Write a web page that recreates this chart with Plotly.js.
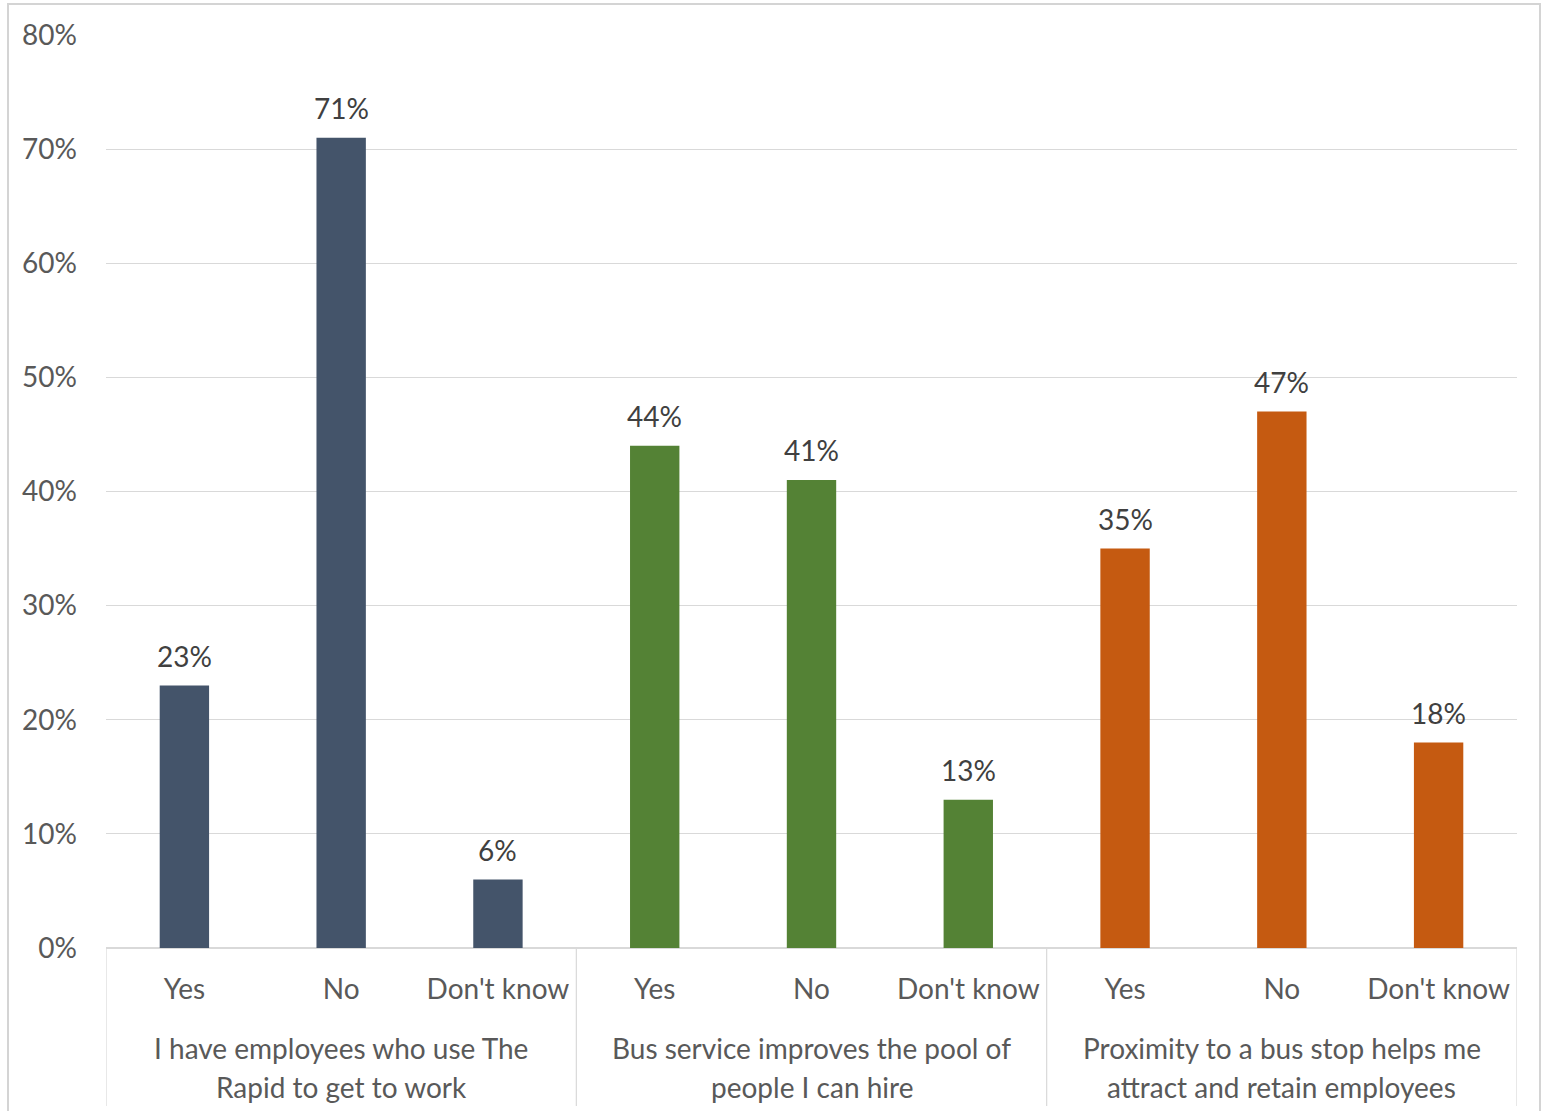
<!DOCTYPE html>
<html>
<head>
<meta charset="utf-8">
<script src="https://cdn.plot.ly/plotly-3.0.1.min.js"></script>
<style>html,body{margin:0;padding:0;background:#fff;}#chart{width:1544px;height:1111px;}</style>
</head>
<body>
<div id="chart"></div>
<script>
const answers = ["Yes", "No", "Don't know", "Yes", "No", "Don't know", "Yes", "No", "Don't know"];
const values = [23, 71, 6, 44, 41, 13, 35, 47, 18];
const groupLine1 = ["I have employees who use The", "Bus service improves the pool of", "Proximity to a bus stop helps me"];
const groupLine2 = ["Rapid to get to work", "people I can hire", "attract and retain employees"];
const groupColors = ["#44546A", "#548235", "#C55A11"];
const yTicks = [0, 10, 20, 30, 40, 50, 60, 70, 80];

const positions = answers.map((a, i) => i);
const barColors = answers.map((a, i) => groupColors[Math.floor(i / 3)]);
const FONT = "Lato, 'Open Sans', sans-serif";
const FS = 28;

const trace = {
  type: "bar",
  x: positions,
  y: values,
  width: 0.315,
  marker: {color: barColors, line: {width: 0}},
  hoverinfo: "skip"
};

const plotH = 913, plotW = 1411, plotBottomPx = 948, plotLeftPx = 106;
const pyPaper = px => (plotBottomPx - px) / plotH;
const pxPaper = px => (px - plotLeftPx) / plotW;

const shapes = [];
[-0.5, 2.5, 5.5, 8.5].forEach(x => {
  shapes.push({type: "line", xref: "x", yref: "paper", x0: x, x1: x, y0: 0, y1: pyPaper(1106),
    line: {color: "#d9d9d9", width: 1.2}});
});
shapes.push({type: "rect", xref: "paper", yref: "paper",
  x0: pxPaper(8), x1: pxPaper(1540), y0: pyPaper(1120), y1: pyPaper(4),
  line: {color: "#d4d4d4", width: 2}});

const annotations = [];
values.forEach((v, i) => {
  annotations.push({x: positions[i], y: v, xref: "x", yref: "y", text: v + "%",
    showarrow: false, xanchor: "center", yanchor: "bottom", yshift: 11,
    font: {family: FONT, size: FS, color: "#404040"}});
});
groupLine1.forEach((g, i) => {
  annotations.push({x: i * 3 + 1, xref: "x", y: pyPaper(1048), yref: "paper",
    text: g, showarrow: false, xanchor: "center", yanchor: "middle",
    font: {family: FONT, size: FS, color: "#595959"}});
  annotations.push({x: i * 3 + 1, xref: "x", y: pyPaper(1087), yref: "paper",
    text: groupLine2[i], showarrow: false, xanchor: "center", yanchor: "middle",
    font: {family: FONT, size: FS, color: "#595959"}});
});

const layout = {
  width: 1544, height: 1111,
  margin: {l: 106, r: 27, t: 35, b: 163},
  paper_bgcolor: "#fff", plot_bgcolor: "#fff",
  showlegend: false,
  xaxis: {
    range: [-0.5, 8.5], tickvals: positions, ticktext: answers,
    showgrid: false, zeroline: false, showline: false, ticks: "",
    ticklabelstandoff: 22,
    tickfont: {family: FONT, size: FS, color: "#595959"}
  },
  yaxis: {
    range: [0, 80], tickvals: yTicks, ticktext: yTicks.map(v => v + "%"),
    showgrid: true, gridcolor: "#d9d9d9", gridwidth: 1,
    zeroline: true, zerolinecolor: "#d9d9d9", zerolinewidth: 1.2,
    showline: false, ticks: "", ticklabelstandoff: 28,
    tickfont: {family: FONT, size: FS, color: "#595959"}
  },
  shapes: shapes,
  annotations: annotations
};

Plotly.newPlot("chart", [trace], layout, {staticPlot: true, displayModeBar: false});
</script>
</body>
</html>
